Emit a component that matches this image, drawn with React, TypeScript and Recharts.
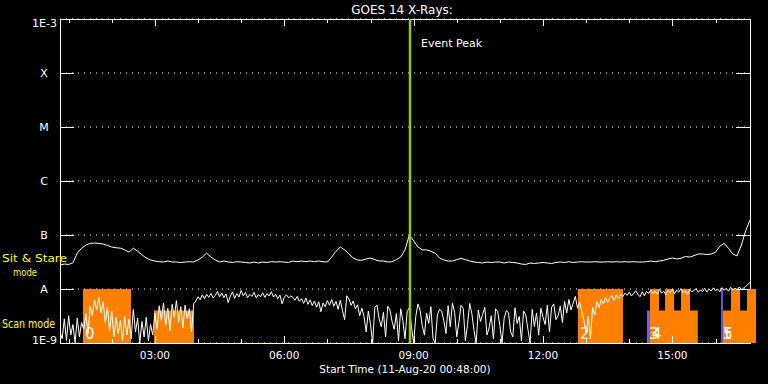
import { CartesianGrid, Line, LineChart, ReferenceArea, ReferenceLine, XAxis, YAxis } from "recharts";

const FONT = "'DejaVu Sans', sans-serif";
const PLOT_LEFT = 60;
const PLOT_RIGHT = 750;
const PLOT_TOP = 19;
const PLOT_BOTTOM = 343;

// time axis in decimal hours of 11-Aug-20, window starts 00:48
const startHour = 0.8;
const endHour = 16.8;
const shortStep = 0.05;
const longStep = 0.1;

// fluxes in units of 1E-9 W/m^2
const shortFlux = [
  1.6, 1.2, 2.8, 1.1, 3.2, 1.4, 2.2, 1.0, 2.9, 1.3, 2.4,
  1.8, 3.5, 1.5, 4.8, 3.2, 6.3, 4.1, 7.0, 3.6, 5.8, 2.4, 4.6, 1.7, 3.9, 1.3, 3.0, 1.5, 2.6, 1.1, 3.1, 1.4, 2.8, 1.2,
  4.2, 1.6, 2.9, 1.0, 2.5, 1.3, 3.0, 1.1, 2.2, 1.4,
  3.6, 1.8, 4.9, 2.6, 5.5, 2.1, 4.4, 1.7, 5.2, 3.0, 6.1, 2.4, 4.7, 1.9, 5.0, 2.8, 4.3, 1.6, 5.3,
  6.0, 7.2, 6.3, 7.8, 6.6, 8.0, 7.0, 8.3, 6.8, 7.6, 9.0, 7.2, 8.4, 6.9, 8.1, 5.6, 7.4, 8.8, 6.7, 8.2,
  7.1, 9.4, 7.5, 8.6, 6.9, 8.0, 7.3, 8.7, 6.8, 7.9, 7.2, 8.5, 7.0, 8.2, 7.4, 8.9, 7.1, 8.0, 6.6, 7.7,
  5.3, 7.0, 7.8, 6.9, 7.4,
  7.0, 6.2, 7.3, 5.9, 6.6, 5.4, 6.8, 5.2, 6.3, 4.9, 6.0, 4.6, 5.8, 3.8, 5.5, 4.7, 6.1, 5.0, 6.4, 4.8,
  5.9, 4.2, 6.2, 4.0, 2.7, 7.5, 6.5, 5.0, 6.0, 4.3, 5.1, 3.2,
  4.4, 3.1, 1.6, 3.9, 2.2, 1.0, 4.6, 5.0, 2.8, 2.0, 3.7, 1.3, 4.8, 4.1, 2.5, 1.8, 3.5, 1.1, 4.3, 2.6,
  1.2, 3.8, 4.5, 2.0, 1.0, 3.1, 5.3, 4.0, 2.1, 1.4, 3.6, 2.3, 4.7, 1.2, 1.0, 3.3, 4.2, 3.9, 2.6, 1.5,
  4.9, 2.0, 5.5, 3.7, 1.3, 2.4, 5.0, 4.4, 1.1, 2.2, 5.4, 3.5, 1.7, 1.0, 4.1, 2.5, 3.4, 4.6, 1.4, 1.9,
  3.2, 1.2, 4.3, 3.8, 2.1, 1.0, 2.9, 4.0, 3.6, 1.6, 1.3, 4.5, 2.3, 3.1, 1.1, 3.9, 3.3, 1.8, 1.0, 4.2,
  2.0, 3.6, 1.4, 4.4, 3.0, 2.2, 5.0, 1.6, 4.6, 5.3, 2.7, 3.2, 4.8, 2.4, 5.9, 3.6, 6.4, 4.1, 5.5, 7.3,
  4.4, 5.7,
  3.8, 2.6, 1.5, 3.1, 1.2, 4.6, 3.3, 5.8, 4.5, 6.4, 5.2, 7.0, 5.6, 6.8, 7.5, 6.1, 7.8, 6.6, 8.1, 7.2, 8.4,
  7.6, 8.8, 7.4, 8.2, 9.3, 8.0, 7.2, 8.9, 7.5, 9.0, 8.3, 9.6, 8.1, 9.2, 7.9, 9.8, 8.4, 9.1, 7.8, 9.4,
  8.6, 9.9, 8.2, 9.5, 8.8, 10.2, 8.5, 9.3, 8.0, 9.7, 8.9, 9.4, 10.1, 8.7, 9.6, 9.0, 10.3, 8.8, 9.9, 9.2,
  10.5, 9.4, 10.0, 8.9, 10.6, 9.5, 10.2, 9.1, 10.8, 9.6, 10.3, 9.8, 10.9, 9.7, 10.4, 11.2, 12.1, 13.4, 12.6,
];

const longFlux = [
  27.8, 29, 28.5, 30.5, 46, 57, 65, 70, 71, 70,
  68, 64, 60, 58, 57, 53, 48, 57, 50, 43,
  37.5, 34.5, 33, 32, 31.6, 33, 31.6, 31.6, 31, 31.6,
  32, 31.6, 34.5, 39, 46, 39, 34.5, 31.6, 33, 31.6,
  31, 32, 31.6, 31, 30.3, 31.6, 30.3, 31.6, 31, 32,
  31.6, 32, 31.6, 31, 33, 32, 33, 32, 33, 32,
  33, 32, 31.6, 39, 50, 60, 53, 44.5, 37.5, 34.5,
  34, 36, 37.5, 35, 33, 33, 31.6, 32, 35, 39,
  53, 100, 78, 60, 53, 53, 50, 46, 37.5, 34.5,
  33, 33, 35, 37, 35, 33, 31.6, 31, 30.3, 31.6,
  31, 31.6, 31.6, 30.3, 31.6, 31, 30.3, 29, 28.5, 30.3,
  29.7, 30.3, 31, 30.3, 29.7, 31, 31.6, 31, 32, 31,
  31.6, 32, 31.6, 31.6, 32, 31.6, 31.6, 32, 31.6, 32,
  31.6, 32, 31.6, 32, 31.6, 31.6, 32, 33, 32, 33,
  34, 36, 37.5, 36, 37, 40, 39, 41.5, 44.5, 44.5,
  43.5, 44.5, 48, 62, 70, 57, 44.5, 41, 65, 120,
  190,
];

const eventPeakHour = 8.916;

// scan mode periods (orange) and sit & stare markers (blue)
const scanFrom = [1.333, 2.98, 12.81, 14.48, 14.48, 14.83, 15.2, 16.17, 16.36, 16.73];
const scanTo = [2.446, 3.907, 13.855, 15.59, 14.69, 15.04, 15.41, 16.94, 16.57, 16.94];
const scanTop = [10, 4, 10, 4, 10, 10, 10, 4, 10, 10];
const scanLabel = ["0", "", "2", "", "4", "", "", "6", "", ""];
const markerFrom = [14.41, 16.13];
const markerTo = [14.48, 16.17];
const markerTop = [4, 10];
const markerLabel = ["3", "5"];

const fluxTicks = [1, 10, 100, 1e3, 1e4, 1e5, 1e6];
const fluxLabels = ["1E-9", "A", "B", "C", "M", "X", "1E-3"];
const hourTicks = [1, 2, 3, 4, 5, 6, 7, 8, 9, 10, 11, 12, 13, 14, 15, 16];

const shortData = shortFlux.map((v, i) => ({ t: startHour + i * shortStep, v }));
const longData = longFlux.map((v, i) => ({ t: startHour + i * longStep, v }));

function HourTick({ x, payload }: any) {
  const h = payload.value;
  const major = h % 3 === 0;
  const len = major ? 7 : 4;
  const px = Math.round(x) + 0.5;
  return (
    <g>
      <line x1={px} x2={px} y1={PLOT_BOTTOM} y2={PLOT_BOTTOM - len} stroke="#fff" />
      <line x1={px} x2={px} y1={PLOT_TOP} y2={PLOT_TOP + len} stroke="#fff" />
      {major ? (
        <text x={x} y={359} textAnchor="middle" fill="#fff" fontSize={10.5} fontFamily={FONT}>
          {String(h).padStart(2, "0") + ":00"}
        </text>
      ) : null}
    </g>
  );
}

function FluxTick({ y, payload }: any) {
  const i = fluxTicks.indexOf(payload.value);
  const py = Math.round(y) + 0.5;
  if (i === 0) {
    return <text x={57} y={y + 0.5} textAnchor="end" fill="#fff" fontSize={11} fontFamily={FONT}>{fluxLabels[i]}</text>;
  }
  if (i === fluxTicks.length - 1) {
    return <text x={57} y={y + 8} textAnchor="end" fill="#fff" fontSize={11} fontFamily={FONT}>{fluxLabels[i]}</text>;
  }
  return (
    <g>
      <line x1={PLOT_LEFT} x2={PLOT_LEFT + 14} y1={py} y2={py} stroke="#fff" />
      <line x1={PLOT_RIGHT - 14} x2={PLOT_RIGHT} y1={py} y2={py} stroke="#fff" />
      <text x={44} y={y + 4} textAnchor="middle" fill="#fff" fontSize={11} fontFamily={FONT}>{fluxLabels[i]}</text>
    </g>
  );
}

function blockLabel(text: string) {
  if (!text) return undefined;
  return (props: any) => (
    <text
      x={props.viewBox.x + 2}
      y={props.viewBox.y + props.viewBox.height - 4}
      fill="#fff"
      fontSize={15}
      fontFamily={FONT}
    >
      {text}
    </text>
  );
}

export default function App() {
  return (
    <div style={{ position: "fixed", left: 0, top: 0, width: 768, height: 384, background: "#000" }}>
      <LineChart width={768} height={384} margin={{ top: PLOT_TOP, right: 768 - PLOT_RIGHT, bottom: 0, left: 0 }}>
        <CartesianGrid vertical={false} stroke="#fff" strokeDasharray="1 5" />
        <XAxis
          dataKey="t"
          type="number"
          domain={[startHour, endHour]}
          allowDataOverflow
          ticks={hourTicks}
          interval={0}
          height={41}
          axisLine={false}
          tickLine={false}
          tick={<HourTick />}
        />
        <YAxis
          type="number"
          scale="log"
          domain={[1, 1e6]}
          allowDataOverflow
          ticks={fluxTicks}
          interval={0}
          width={60}
          axisLine={false}
          tickLine={false}
          tick={<FluxTick />}
        />
        {scanFrom.map((x1, i) => (
          <ReferenceArea
            key={"s" + i}
            x1={x1}
            x2={scanTo[i]}
            y1={1}
            y2={scanTop[i]}
            fill="#ff8000"
            fillOpacity={1}
            ifOverflow="visible"
            label={blockLabel(scanLabel[i])}
          />
        ))}
        {markerFrom.map((x1, i) => (
          <ReferenceArea
            key={"m" + i}
            x1={x1}
            x2={markerTo[i]}
            y1={1}
            y2={markerTop[i]}
            fill="#6464ff"
            fillOpacity={1}
            ifOverflow="visible"
            label={blockLabel(markerLabel[i])}
          />
        ))}
        <Line data={longData} dataKey="v" stroke="#fff" strokeWidth={1} dot={false} isAnimationActive={false} />
        <Line data={shortData} dataKey="v" stroke="#fff" strokeWidth={1} dot={false} isAnimationActive={false} />
        <ReferenceLine
          x={eventPeakHour}
          stroke="#99cc00"
          strokeWidth={2.5}
          label={(props: any) => (
            <text x={props.viewBox.x + 11} y={props.viewBox.y + 28} fill="#fff" fontSize={11} fontFamily={FONT}>
              Event Peak
            </text>
          )}
        />
        <rect x={PLOT_LEFT + 0.5} y={PLOT_TOP + 0.5} width={PLOT_RIGHT - PLOT_LEFT} height={PLOT_BOTTOM - PLOT_TOP} fill="none" stroke="#fff" />
        <text x={402} y={14} textAnchor="middle" fill="#fff" fontSize={12} fontFamily={FONT}>GOES 14 X-Rays:</text>
        <text x={405} y={373} textAnchor="middle" fill="#fff" fontSize={10.5} fontFamily={FONT}>Start Time (11-Aug-20 00:48:00)</text>
        <text x={2} y={262} fill="#ffff00" fontSize={11} fontFamily={FONT} textLength={65} lengthAdjust="spacingAndGlyphs">Sit &amp; Stare</text>
        <text x={13} y={276} fill="#ffff00" fontSize={11} fontFamily={FONT} textLength={24} lengthAdjust="spacingAndGlyphs">mode</text>
        <text x={2} y={328} fill="#ffff00" fontSize={12} fontFamily={FONT} textLength={53} lengthAdjust="spacingAndGlyphs">Scan mode</text>
      </LineChart>
    </div>
  );
}
